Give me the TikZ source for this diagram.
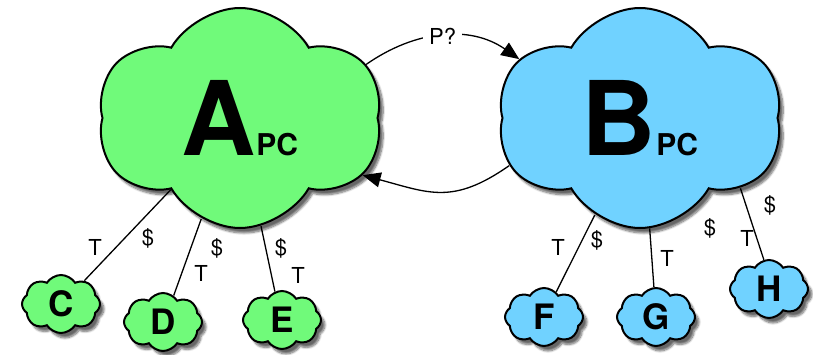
\documentclass[tikz,border=0pt]{standalone}
\usepackage{fontspec}
\setmainfont{TeX Gyre Heros}
\usetikzlibrary{shapes.symbols,shadows.blur,arrows.meta}

\definecolor{pcgreen}{RGB}{112,250,122}
\definecolor{pcblue}{RGB}{112,210,255}

\tikzset{
  pc/.style={cloud, cloud ignores aspect, draw, line width=2pt, inner sep=0pt,
    blur shadow={shadow xshift=4pt, shadow yshift=-5pt, shadow blur steps=8, shadow opacity=60}},
  bigpc/.style={pc, cloud puffs=6, cloud puff arc=120, shape border rotate=7,
    minimum width=285pt, minimum height=220pt,
    font=\fontsize{103}{103}\selectfont\bfseries},
  smallpc/.style={pc, cloud puffs=8, cloud puff arc=115, minimum width=78pt, minimum height=58pt,
    font=\fontsize{35}{35}\selectfont\bfseries},
  link/.style={line width=1.3pt},
  lbl/.style={font=\fontsize{22}{22}\selectfont, inner sep=1pt},
  tip/.style={-{Triangle[length=18pt,width=15pt]}}
}

\begin{document}
\begin{tikzpicture}[x=1pt,y=1pt]
    \useasboundingbox (0,0) rectangle (813,-355);

    %Grandes nuages
    \node[bigpc, fill=pcgreen] (A) at (240,-118) {A{\fontsize{30}{30}\selectfont PC}};
    \node[bigpc, fill=pcblue] (B) at (640,-118) {B{\fontsize{30}{30}\selectfont PC}};

    %Petits nuages
    \node[smallpc, fill=pcgreen] (C) at (61,-304) {C};
    \node[smallpc, fill=pcgreen] (D) at (163,-322) {D};
    \node[smallpc, fill=pcgreen] (E) at (282,-320) {E};
    \node[smallpc, fill=pcblue] (F) at (544,-317) {F};
    \node[smallpc, fill=pcblue] (G) at (656,-317) {G};
    \node[smallpc, fill=pcblue] (H) at (769,-289) {H};

    %Liens
    \draw[link] (A.-134) -- (C.45);
    \draw[link] (A.-111) -- (D.68);
    \draw[link] (A.-79) -- (E.104);
    \draw[link] (B.-115) -- (F.64);
    \draw[link] (B.-85) -- (G.94);
    \draw[link] (B.-35) -- (H.100);

    %Etiquettes
    \node[lbl] (tC) at (95,-247) {T};
    \node[lbl] (dC) at (148,-238) {\$};
    \node[lbl] (dD) at (217,-248) {\$};
    \node[lbl] (tD) at (201,-273) {T};
    \node[lbl] (dE) at (281,-248) {\$};
    \node[lbl] (tE) at (298,-275) {T};
    \node[lbl] (tF) at (558,-247) {T};
    \node[lbl] (dF) at (597,-240) {\$};
    \node[lbl] (tG) at (667,-258) {T};
    \node[lbl] (dG) at (710,-228) {\$};
    \node[lbl] (dH) at (770,-205) {\$};
    \node[lbl] (tH) at (747,-238) {T};

    %Fleches
    \draw[link, tip] (A.23) to[out=35, in=145] node[lbl, fill=white, inner sep=6pt] (P) {P?} (B.154);
    \draw[link, tip] (B.-160) to[out=215, in=-15, looseness=1.2] (A.-25);
\end{tikzpicture}
\end{document}
